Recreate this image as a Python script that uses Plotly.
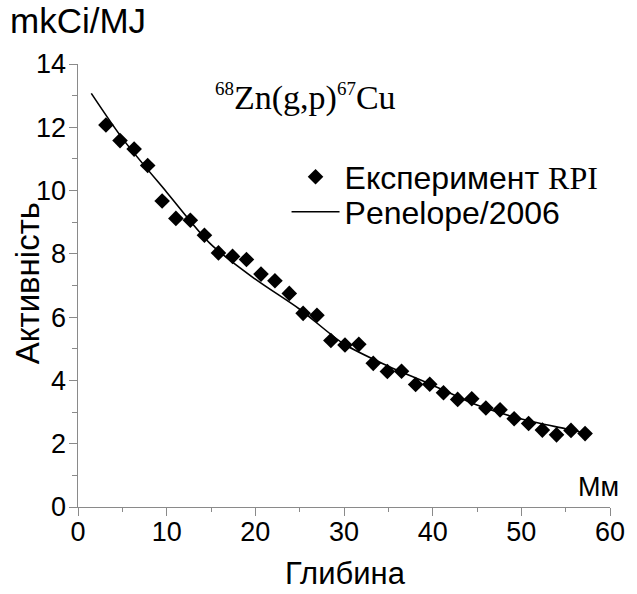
import plotly.graph_objects as go

# Experimental points (depth, mm ; activity, mkCi/MJ)
exp_x = [3.15, 4.74, 6.33, 7.86, 9.49, 11.04, 12.67, 14.26, 15.84, 17.43, 19.0,
         20.64, 22.21, 23.83, 25.39, 26.95, 28.52, 30.11, 31.67, 33.3, 34.89,
         36.49, 38.08, 39.67, 41.22, 42.82, 44.41, 46.0, 47.6, 49.19, 50.82,
         52.37, 53.97, 55.6, 57.19]
exp_y = [12.07, 11.58, 11.31, 10.79, 9.67, 9.12, 9.06, 8.59, 8.03, 7.92, 7.82,
         7.36, 7.15, 6.75, 6.12, 6.06, 5.26, 5.12, 5.14, 4.54, 4.28,
         4.29, 3.87, 3.88, 3.61, 3.40, 3.42, 3.13, 3.07, 2.79, 2.64,
         2.43, 2.28, 2.42, 2.32]

# Penelope/2006 simulation curve
sim_x = [1.5, 5, 10, 15, 20, 25, 30, 35, 40, 45, 50, 55, 57.3]
sim_y = [13.07, 11.65, 9.95, 8.3, 7.2, 6.25, 5.15, 4.45, 3.85, 3.22, 2.78, 2.47, 2.33]

# Axis ranges
x_range = [0, 60]
y_range = [0, 14]

SANS = "Liberation Sans, Arial, sans-serif"
SERIF = "Liberation Serif, Times New Roman, serif"
GRAY = "#8a8a8a"

fig = go.Figure()
fig.add_trace(go.Scatter(
    x=exp_x, y=exp_y, mode="markers",
    name='Експеримент <span style="font-family:Liberation Serif">RPI</span>',
    marker=dict(symbol="diamond", size=12, color="black"),
    legend="legend",
))
fig.add_trace(go.Scatter(
    x=sim_x, y=sim_y, mode="lines", name="Penelope/2006",
    line=dict(color="black", width=1.6, shape="spline", smoothing=0.8),
    legend="legend2",
))
# empty trace holding the label-only overlay axes
fig.add_trace(go.Scatter(x=[], y=[], xaxis="x2", yaxis="y2",
                         showlegend=False, hoverinfo="skip"))

tickfont = dict(family=SANS, size=27, color="black")

fig.update_layout(
    xaxis=dict(range=x_range, dtick=10, tick0=0, showline=True, linecolor=GRAY,
               linewidth=1, ticks="outside", tickcolor=GRAY, ticklen=8,
               showticklabels=False, showgrid=False, zeroline=False,
               minor=dict(dtick=5, ticks="outside", ticklen=4, tickcolor=GRAY)),
    yaxis=dict(range=y_range, dtick=2, tick0=0, showline=True, linecolor=GRAY,
               linewidth=1, ticks="outside", tickcolor=GRAY, ticklen=8,
               showticklabels=False, showgrid=False, zeroline=False,
               minor=dict(dtick=1, ticks="outside", ticklen=5, tickcolor=GRAY)),
    xaxis2=dict(range=x_range, dtick=10, tick0=0, overlaying="x", anchor="y2",
                side="bottom", ticks="", showline=False, showgrid=False,
                zeroline=False, tickfont=tickfont, ticklabelstandoff=6),
    yaxis2=dict(range=y_range, dtick=2, tick0=0, overlaying="y", anchor="x2",
                side="left", ticks="", showline=False, showgrid=False,
                zeroline=False, tickfont=tickfont, ticklabelstandoff=11),
)

annotations = [
    dict(text="mkCi/MJ", x=-0.132, y=1.099, xanchor="left", yanchor="middle",
         font=dict(family=SANS, size=35, color="black")),
    dict(text="Мм", x=1.02, y=0.045, xanchor="right", yanchor="middle",
         font=dict(family=SANS, size=27, color="black")),
    dict(text='<sup><span style="font-size:19px">68</span></sup>Zn(g,p)'
              '<sup><span style="font-size:19px">67</span></sup>Cu',
         x=0.253, y=0.925, xanchor="left", yanchor="middle",
         font=dict(family=SERIF, size=34, color="black")),
    dict(text="Глибина", x=0.503, y=-0.149, xanchor="center", yanchor="middle",
         font=dict(family=SANS, size=31, color="black")),
    dict(text="Активність", x=-0.095, y=0.506, xanchor="center", yanchor="middle",
         textangle=-90, font=dict(family=SANS, size=33, color="black")),
]
for a in annotations:
    a.update(xref="paper", yref="paper", showarrow=False)

legend_common = dict(
    xanchor="left", yanchor="middle", bgcolor="rgba(0,0,0,0)",
    font=dict(family=SANS, size=32, color="black"),
    itemwidth=48, tracegroupgap=0,
)

fig.update_layout(
    width=637, height=594,
    margin=dict(l=78, r=19, t=64, b=87),
    paper_bgcolor="white", plot_bgcolor="white",
    showlegend=True,
    legend=dict(x=0.392, y=0.745, **legend_common),
    legend2=dict(x=0.392, y=0.666, **legend_common),
    annotations=annotations,
)

fig.write_html("out.html")
